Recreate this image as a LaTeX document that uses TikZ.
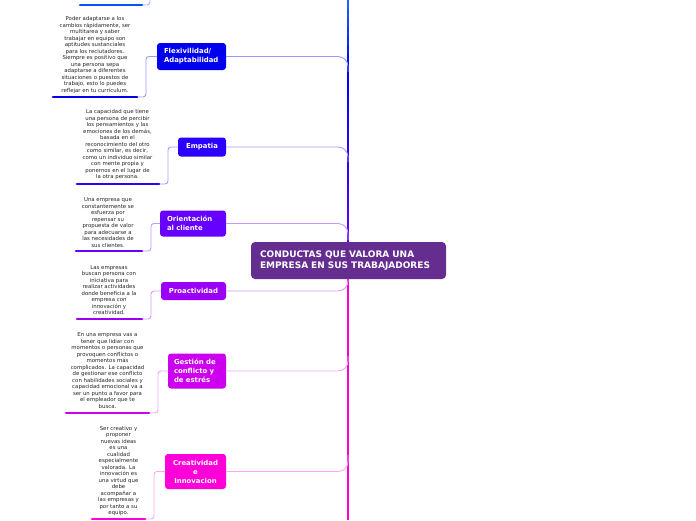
\documentclass[tikz,border=0pt]{standalone}
\usepackage{fontspec}
\setmainfont{DejaVu Sans}
\definecolor{ctop}{HTML}{2060FF}
\definecolor{cblue}{HTML}{0000FF}
\definecolor{cviol}{HTML}{6000FF}
\definecolor{cmag}{HTML}{FF00CC}
\definecolor{cflex}{HTML}{0000EE}
\definecolor{cemp}{HTML}{2B00FF}
\definecolor{cori}{HTML}{6600FF}
\definecolor{ccen}{HTML}{662D91}
\definecolor{cpro}{HTML}{9A00F5}
\definecolor{cges}{HTML}{CC00EE}
\definecolor{ccre}{HTML}{FF00D8}
\definecolor{cul0}{HTML}{0055FF}
\definecolor{desctext}{HTML}{262626}
\begin{document}
\begin{tikzpicture}[x=1pt,y=-1pt,
  topic/.style={rounded corners=3pt, text=white, inner sep=0pt, outer sep=0pt,
    font=\fontsize{6.9}{9}\selectfont\bfseries},
  desc/.style={align=center, text=desctext, inner sep=0pt,
    font=\fontsize{5.4}{6.5}\selectfont},
  uline/.style={line width=2.6pt, line cap=round},
  conn/.style={line width=0.9pt, rounded corners=3pt},
  rconn/.style={line width=0.9pt, rounded corners=10pt}]
\useasboundingbox (0,0) rectangle (696,520);

% trunk
\foreach \i in {0,...,7} {
  \pgfmathsetmacro\p{100*\i/7}
  \draw[line width=2.5pt, color=cblue!\p!ctop] (348,\i*9) -- (348,\i*9+9.6);
}
\foreach \i in {0,...,15} {
  \pgfmathsetmacro\p{100*\i/15}
  \draw[line width=2.5pt, color=cviol!\p!cblue] (348,72+\i*11) -- (348,72+\i*11+11.6);
}
\draw[line width=2.5pt, color=cmag] (348,262) -- (348,520);

% trunk coordinates
\coordinate (mflex) at (348,72);
\coordinate (memp) at (348,162);
\coordinate (mori) at (348,240);
\coordinate (mpro) at (348,276);
\coordinate (mges) at (348,356);
\coordinate (mcre) at (348,455);

% topic nodes
\node[topic, fill=cflex, minimum width=69, minimum height=27, text width=55, align=left] (flex) at (191.5,56.5) {Flexivilidad/\\Adaptabilidad};
\node[topic, fill=cemp, minimum width=48, minimum height=19, align=center] (emp) at (202,147) {Empatia};
\node[topic, fill=cori, minimum width=66, minimum height=26, text width=52, align=left] (ori) at (193,223.5) {Orientación\\al cliente};
\node[topic, fill=cpro, minimum width=65, minimum height=18, align=center] (pro) at (193.5,291) {Proactividad};
\node[topic, fill=cges, minimum width=58, minimum height=35, text width=46, align=left] (ges) at (197,371) {Gestión de\\conflicto y\\de estrés};
\node[topic, fill=ccre, minimum width=61, minimum height=35, align=center] (cre) at (195.5,471.5) {Creatividad\\e\\Innovacion};

% right connectors to trunk
\draw[rconn, draw=cflex!40] (flex.east) -| (mflex);
\draw[rconn, draw=cemp!40] (emp.east) -| (memp);
\draw[rconn, draw=cori!40] (ori.east) -| (mori);
\draw[rconn, draw=cpro!40] (pro.east) -| (mpro);
\draw[rconn, draw=cges!35] (ges.east) -| (mges);
\draw[rconn, draw=ccre!35] (cre.east) -| (mcre);

% central topic
\node[rounded corners=4pt, fill=ccen, text=white, inner sep=0pt, minimum width=195, minimum height=37,
  text width=177, align=left, font=\fontsize{9}{10.5}\selectfont\bfseries] (cen) at (348.5,260.5)
  {CONDUCTAS QUE VALORA UNA\\EMPRESA EN SUS TRABAJADORES};

% underline coordinates and bends
\coordinate (u0L) at (80,5);   \coordinate (u0R) at (142,5);   \coordinate (b0) at (150,-20);
\coordinate (u1L) at (53,97);  \coordinate (u1R) at (137,97);  \coordinate (b1) at (146,56.5);
\coordinate (u2L) at (77,184); \coordinate (u2R) at (159,184); \coordinate (b2) at (168,147);
\coordinate (u3L) at (76,251); \coordinate (u3R) at (142,251); \coordinate (b3) at (151,223.5);
\coordinate (u4L) at (77,319); \coordinate (u4R) at (142,319); \coordinate (b4) at (151,291);
\coordinate (u5L) at (66,413); \coordinate (u5R) at (149,413); \coordinate (b5) at (158,371);
\coordinate (u6L) at (92,519); \coordinate (u6R) at (145,519); \coordinate (b6) at (154,471.5);

% left connectors
\draw[conn, draw=cul0!40] (u0R) -| (b0);
\draw[conn, draw=cflex!40] (u1R) -| (b1) -- (flex.west);
\draw[conn, draw=cemp!40] (u2R) -| (b2) -- (emp.west);
\draw[conn, draw=cori!40] (u3R) -| (b3) -- (ori.west);
\draw[conn, draw=cpro!40] (u4R) -| (b4) -- (pro.west);
\draw[conn, draw=cges!35] (u5R) -| (b5) -- (ges.west);
\draw[conn, draw=ccre!35] (u6R) -| (b6) -- (cre.west);

% underlines
\draw[uline, cul0] (u0L) -- (u0R);
\draw[uline, cflex] (u1L) -- (u1R);
\draw[uline, cemp] (u2L) -- (u2R);
\draw[uline, cori] (u3L) -- (u3R);
\draw[uline, cpro] (u4L) -- (u4R);
\draw[uline, cges] (u5L) -- (u5R);
\draw[uline, ccre] (u6L) -- (u6R);

% descriptions
\node[desc] (d1) at (95,55) {Poder adaptarse a los\\cambios rápidamente, ser\\multitarea y saber\\trabajar en equipo son\\aptitudes sustanciales\\para los reclutadores.\\Siempre es positivo que\\una persona sepa\\adaptarse a diferentes\\situaciones o puestos de\\trabajo, esto lo puedes\\reflejar en tu currículum.};
\node[desc] (d2) at (117.5,145) {La capacidad que tiene\\una persona de percibir\\los pensamientos y las\\emociones de los demás,\\basada en el\\reconocimiento del otro\\como similar, es decir,\\como un individuo similar\\con mente propia y\\ponernos en el lugar de\\la otra persona.};
\node[desc] (d3) at (108,222.5) {Una empresa que\\constantemente se\\esfuerza por\\repensar su\\propuesta de valor\\para adecuarse a\\las necesidades de\\sus clientes.};
\node[desc] (d4) at (109,290) {Las empresas\\buscan persona con\\iniciativa para\\realizar actividades\\donde beneficia a la\\empresa con\\innovación y\\creatividad.};
\node[desc] (d5) at (107.5,370.5) {En una empresa vas a\\tener que lidiar con\\momentos o personas que\\provoquen conflictos o\\momentos más\\complicados. La capacidad\\de gestionar ese conflicto\\con habilidades sociales y\\capacidad emocional va a\\ser un punto a favor para\\el empleador que te\\busca.};
\node[desc] (d6) at (118.5,471) {Ser creativo y\\proponer\\nuevas ideas\\es una\\cualidad\\especialmente\\valorada. La\\innovación es\\una virtud que\\debe\\acompañar a\\las empresas y\\por tanto a su\\equipo.};
\end{tikzpicture}
\end{document}
